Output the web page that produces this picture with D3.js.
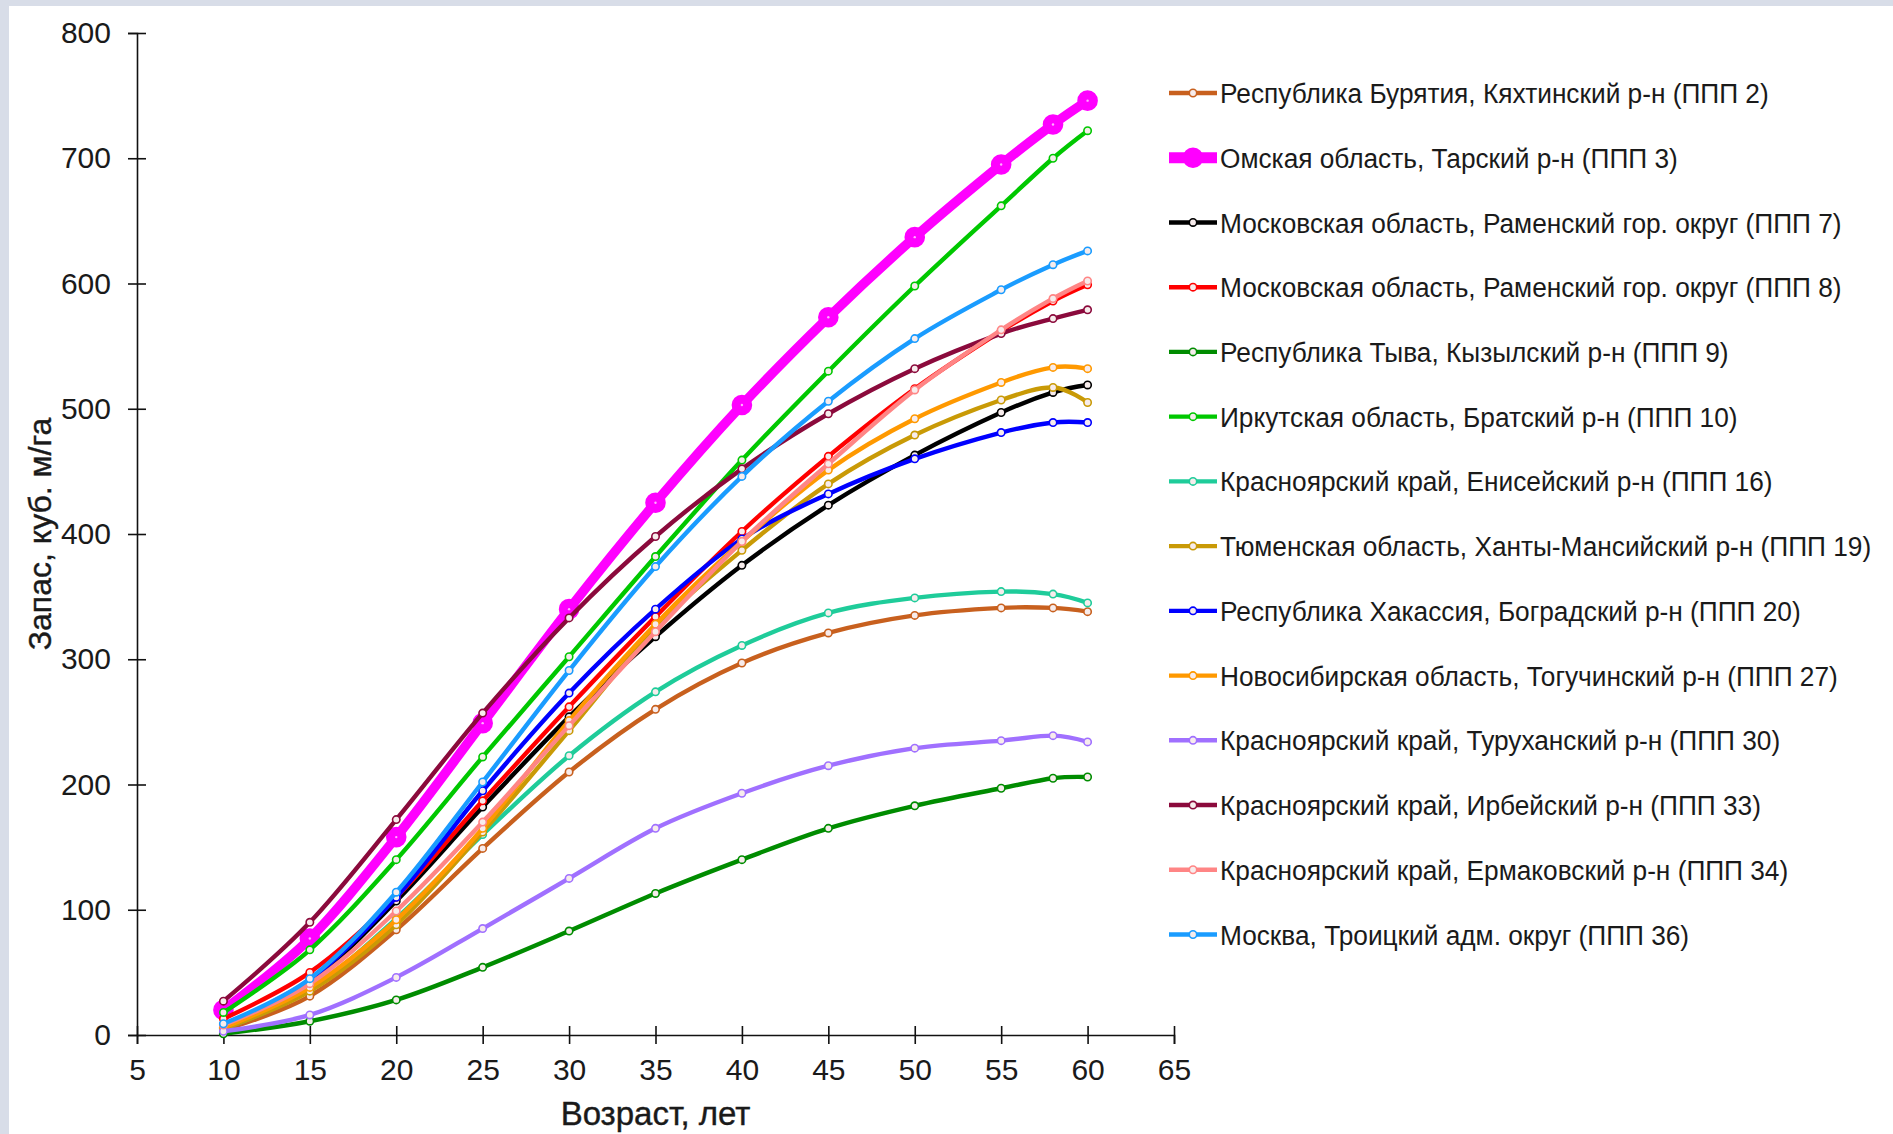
<!DOCTYPE html>
<html>
<head>
<meta charset="utf-8">
<script src="https://cdnjs.cloudflare.com/ajax/libs/d3/7.8.5/d3.min.js"></script>
<style>
  html, body { margin: 0; padding: 0; background: #d8dde8; }
  svg { display: block; }
  text { font-family: "Liberation Sans", Arial, sans-serif; fill: #1a1a1a; }
</style>
</head>
<body>
<div id="container"></div>
<script>
// ages (x values)
var ages = [10, 15, 20, 25, 30, 35, 40, 45, 50, 55, 58, 60];

// legend names
var names = [
  "Республика Бурятия, Кяхтинский р-н (ППП 2)",
  "Омская область, Тарский р-н (ППП 3)",
  "Московская область, Раменский гор. округ (ППП 7)",
  "Московская область, Раменский гор. округ (ППП 8)",
  "Республика Тыва, Кызылский р-н (ППП 9)",
  "Иркутская область, Братский р-н (ППП 10)",
  "Красноярский край, Енисейский р-н (ППП 16)",
  "Тюменская область, Ханты-Мансийский р-н (ППП 19)",
  "Республика Хакассия, Боградский р-н (ППП 20)",
  "Новосибирская область, Тогучинский р-н (ППП 27)",
  "Красноярский край, Туруханский р-н (ППП 30)",
  "Красноярский край, Ирбейский р-н (ППП 33)",
  "Красноярский край, Ермаковский р-н (ППП 34)",
  "Москва, Троицкий адм. округ (ППП 36)"
];

var colors = ["#c8601e", "#ff00ff", "#000000", "#ff0000", "#008c00", "#00c800", "#1fcc9a",
              "#c99a06", "#0000ff", "#ff9900", "#a070ff", "#8b0a3c", "#ff8585", "#1a9cff"];

// stock, m3/ha, one array per plot
var ppp2  = [4, 31, 84, 149, 210, 260, 297, 321, 335, 341, 341, 338];
var ppp3  = [20, 77, 158, 249, 340, 425, 503, 573, 637, 695, 727, 746];
var ppp7  = [6, 42, 107, 182, 254, 318, 375, 423, 463, 497, 513, 519];
var ppp8  = [13, 50, 110, 187, 262, 334, 402, 462, 516, 562, 586, 599];
var ppp9  = [1, 11, 28, 54, 83, 113, 140, 165, 183, 197, 205, 206];
var ppp10 = [18, 68, 140, 222, 302, 382, 459, 530, 598, 662, 700, 722];
var ppp16 = [5, 36, 93, 160, 223, 274, 311, 337, 349, 354, 352, 345];
var ppp19 = [5, 35, 88, 162, 243, 325, 387, 440, 479, 507, 517, 505];
var ppp20 = [8, 44, 110, 195, 273, 340, 396, 432, 460, 481, 489, 489];
var ppp27 = [6, 38, 92, 165, 251, 328, 394, 451, 492, 521, 533, 532];
var ppp30 = [3, 16, 46, 85, 125, 165, 193, 215, 229, 235, 239, 234];
var ppp33 = [27, 90, 172, 257, 333, 398, 452, 496, 532, 560, 572, 579];
var ppp34 = [8, 41, 99, 170, 247, 322, 394, 456, 515, 563, 588, 602];
var ppp36 = [9, 45, 114, 202, 291, 374, 446, 506, 556, 595, 615, 626];

var values = [ppp2, ppp3, ppp7, ppp8, ppp9, ppp10, ppp16, ppp19, ppp20, ppp27, ppp30, ppp33, ppp34, ppp36];

var xTicks = [5, 10, 15, 20, 25, 30, 35, 40, 45, 50, 55, 60, 65];
var yTicks = [0, 100, 200, 300, 400, 500, 600, 700, 800];

var series = names.map(function(n, i) {
  return { name: n, color: colors[i], bold: i === 1,
           points: ages.map(function(a, j) { return { x: a, y: values[i][j] }; }) };
});

var w = 1893, h = 1134;

var svg = d3.select("div#container")
  .append("svg")
  .attr("width", w)
  .attr("height", h);

// white sheet over the bluish frame
svg.append("rect")
  .attr("x", 9).attr("y", 6)
  .attr("width", w - 9).attr("height", h - 6)
  .attr("fill", "#ffffff");

var x = d3.scaleLinear().domain([5, 65]).range([137, 1174]);
var y = d3.scaleLinear().domain([0, 800]).range([1035, 33]);

// axes
var xAxis = svg.append("g")
  .attr("transform", "translate(0," + y(0) + ")")
  .call(d3.axisBottom(x).tickValues(xTicks).tickSize(9).tickPadding(16));

var yAxis = svg.append("g")
  .attr("transform", "translate(" + x(5) + ",0)")
  .call(d3.axisLeft(y).tickValues(yTicks).tickSize(9).tickPadding(17));

[xAxis, yAxis].forEach(function(g) {
  g.select(".domain").attr("stroke", "#111").attr("stroke-width", 1.6);
  g.selectAll(".tick line").attr("stroke", "#111").attr("stroke-width", 1.6);
  g.selectAll(".tick text")
    .style("font-family", "'Liberation Sans', Arial, sans-serif")
    .style("font-size", "30px")
    .attr("fill", "#1a1a1a");
});
// ticks cross the axis lines
xAxis.selectAll(".tick line").attr("y1", -9).attr("y2", 9);
yAxis.selectAll(".tick line").attr("x1", -9).attr("x2", 9);
xAxis.selectAll(".tick text").attr("y", 24);

// axis titles
svg.append("text")
  .attr("x", (x(5) + x(65)) / 2)
  .attr("y", 1125)
  .attr("text-anchor", "middle")
  .style("font-size", "33px")
  .style("stroke", "#1a1a1a")
  .style("stroke-width", 0.4)
  .text("Возраст, лет");

svg.append("text")
  .attr("transform", "translate(51," + (y(0) + y(800)) / 2 + ") rotate(-90)")
  .attr("text-anchor", "middle")
  .style("font-size", "32px")
  .style("stroke", "#1a1a1a")
  .style("stroke-width", 0.4)
  .text("Запас, куб. м/га");

// smoothed lines, as in the spreadsheet chart
var line = d3.line()
  .x(function(d) { return x(d.x); })
  .y(function(d) { return y(d.y); })
  .curve(d3.curveCatmullRom.alpha(0));

var plot = svg.append("g");

series.forEach(function(s) {
  var g = plot.append("g");
  g.append("path")
    .attr("d", line(s.points))
    .attr("fill", "none")
    .attr("stroke", s.color)
    .attr("stroke-width", s.bold ? 9.5 : 4.4)
    .attr("stroke-linejoin", "round");

  g.selectAll("circle")
    .data(s.points)
    .enter().append("circle")
    .attr("cx", function(d) { return x(d.x); })
    .attr("cy", function(d) { return y(d.y); })
    .attr("r", s.bold ? 9.5 : 3.7)
    .attr("fill", s.bold ? s.color : "#f7ecec")
    .attr("stroke", s.color)
    .attr("stroke-width", 1.6);

  if (s.bold) {
    g.selectAll("circle.dot")
      .data(s.points)
      .enter().append("circle")
      .attr("class", "dot")
      .attr("cx", function(d) { return x(d.x); })
      .attr("cy", function(d) { return y(d.y); })
      .attr("r", 1.2)
      .attr("fill", "#ffb0ff");
  }
});

// legend
var legend = svg.append("g");
var rowY = d3.scaleLinear().domain([0, 13]).range([93, 934.5]);

var item = legend.selectAll("g")
  .data(series)
  .enter().append("g")
  .attr("transform", function(d, i) { return "translate(0," + rowY(i) + ")"; });

item.append("line")
  .attr("x1", 1169).attr("x2", 1217)
  .attr("y1", 0).attr("y2", 0)
  .attr("stroke", function(d) { return d.color; })
  .attr("stroke-width", function(d) { return d.bold ? 11 : 4.4; });

item.append("circle")
  .attr("cx", 1193).attr("cy", 0)
  .attr("r", function(d) { return d.bold ? 9.5 : 3.7; })
  .attr("fill", function(d) { return d.bold ? d.color : "#f7ecec"; })
  .attr("stroke", function(d) { return d.color; })
  .attr("stroke-width", 1.6);

var labels = item.append("text")
  .style("font-size", "28px")
  .attr("dy", "0.36em")
  .text(function(d) { return d.name; });

// the legend font in the original is a narrow face: squeeze to match
var natural = labels.node().getComputedTextLength();
var squeeze = 549 / natural;
labels.attr("transform", "translate(1220,0) scale(" + squeeze + ",1)");
</script>
</body>
</html>
